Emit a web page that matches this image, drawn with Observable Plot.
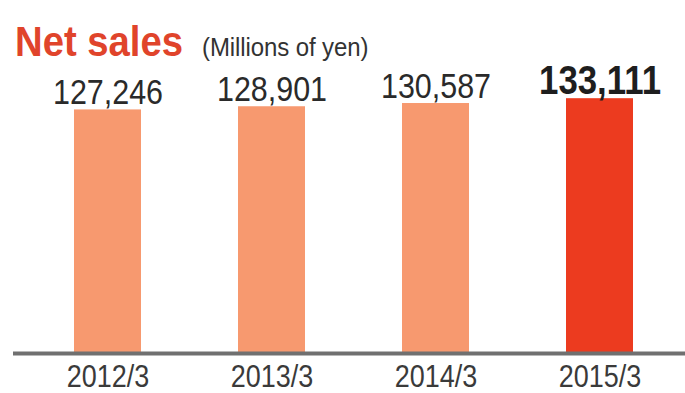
<!DOCTYPE html>
<html>
<head>
<meta charset="utf-8">
<script src="https://cdn.jsdelivr.net/npm/d3@7"></script>
<script src="https://cdn.jsdelivr.net/npm/@observablehq/plot@0.6"></script>
<style>
  html, body { margin: 0; padding: 0; background: #ffffff; }
  #wrap { position: relative; width: 685px; height: 393px; overflow: hidden; font-family: "Liberation Sans", Arial, sans-serif; }
  #title { position: absolute; left: 15px; top: 20px; font-size: 43px; line-height: 43px; font-weight: bold; color: #e0442b; transform: scaleX(0.89); transform-origin: left top; white-space: nowrap; }
  #subtitle { position: absolute; left: 202px; top: 35px; font-size: 25px; line-height: 25px; color: #333; transform: scaleX(0.96); transform-origin: left top; white-space: nowrap; letter-spacing: -0.1px; }
  #chart { position: absolute; left: 0; top: 0; }
</style>
</head>
<body>
<div id="wrap">
  <div id="chart"></div>
  <div id="title">Net sales</div>
  <div id="subtitle">(Millions of yen)</div>
</div>
<script>
const periods = ["2012/3", "2013/3", "2014/3", "2015/3"];
const netSales = [127246, 128901, 130587, 133111];
const latestPeriod = "2015/3";

const data = periods.map((p, i) => ({period: p, value: netSales[i]}));
const fmt = d3.format(",");

const chart = Plot.plot({
  width: 685,
  height: 393,
  marginLeft: 25,
  marginRight: 2,
  marginTop: 85,
  marginBottom: 40,
  style: {fontFamily: "'Liberation Sans', Arial, sans-serif", background: "transparent"},
  x: {type: "band", domain: periods, paddingInner: 0.59, paddingOuter: 0.3, axis: null, label: null},
  y: {domain: [0, 140000], axis: null},
  marks: [
    Plot.barY(data, {
      x: "period", y: "value",
      fill: d => d.period === latestPeriod ? "#ec3b1f" : "#f7996f"
    }),
    Plot.ruleY([0], {stroke: "#707070", strokeWidth: 4, insetLeft: -12, insetRight: -2}),
    Plot.text(data.filter(d => d.period !== latestPeriod), {
      x: "period", y: "value", text: d => fmt(d.value),
      lineAnchor: "bottom", dy: -6, fontSize: 35, fill: "#2a2a2a"
    }),
    Plot.text(data.filter(d => d.period === latestPeriod), {
      x: "period", y: "value", text: d => fmt(d.value),
      lineAnchor: "bottom", dy: -5, fontSize: 40, fontWeight: "bold", fill: "#1e1e1e"
    }),
    Plot.axisX({tickSize: 0, tickPadding: 11, fontSize: 31, fill: "#3a3a3a", label: null})
  ]
});

document.getElementById("chart").appendChild(chart);

// condense glyphs to mimic the narrow typeface of the original
d3.select(chart).selectAll("text").each(function() {
  const len = this.getComputedTextLength();
  if (len > 0) {
    this.setAttribute("textLength", len * 0.87);
    this.setAttribute("lengthAdjust", "spacingAndGlyphs");
  }
});
</script>
</body>
</html>
